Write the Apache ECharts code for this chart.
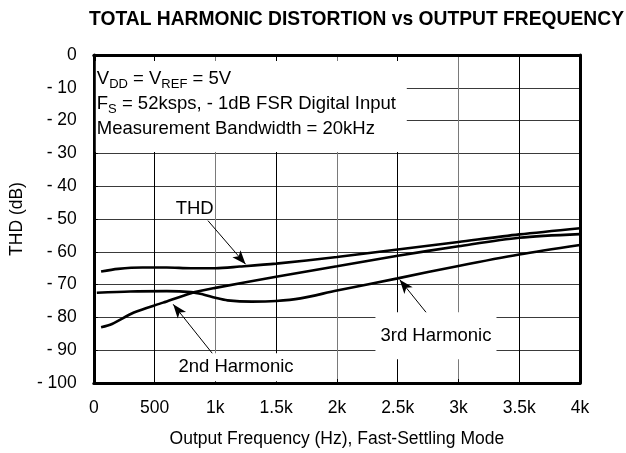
<!DOCTYPE html>
<html>
<head>
<meta charset="utf-8">
<script src="https://cdn.jsdelivr.net/npm/echarts@6/dist/echarts.min.js"></script>
<style>
html,body{margin:0;padding:0;background:#fff;}
#chart{width:626px;height:453px;}
</style>
</head>
<body>
<div id="chart"></div>
<script>
// ---- data ----
const xTicks = [0, 500, 1000, 1500, 2000, 2500, 3000, 3500, 4000];
const xTickLabels = ['0', '500', '1k', '1.5k', '2k', '2.5k', '3k', '3.5k', '4k'];
const yTicks = [-100, -90, -80, -70, -60, -50, -40, -30, -20, -10, 0];
const yTickLabels = ['- 100', '- 90', '- 80', '- 70', '- 60', '- 50', '- 40', '- 30', '- 20', '- 10', '0'];

const thdFreq = [60, 200, 400, 600, 800, 1000, 1200, 1500, 2000, 2500, 3000, 3500, 4000];
const thdDb   = [-66.0, -65.2, -64.8, -64.8, -65.0, -65.0, -64.5, -63.6, -61.6, -59.3, -57.0, -54.7, -52.8];

const h2Freq = [60, 150, 330, 570, 800, 1000, 1500, 2000, 2500, 3000, 3500, 4000];
const h2Db   = [-83.0, -82.0, -78.5, -75.5, -72.6, -71.0, -67.6, -64.4, -61.2, -58.3, -55.7, -54.6];

const h3Freq = [25, 300, 600, 800, 900, 1000, 1100, 1300, 1500, 1700, 2000, 2500, 3000, 3500, 4000];
const h3Db   = [-72.5, -72.1, -72.0, -72.3, -73.0, -74.0, -74.8, -75.2, -75.0, -74.2, -71.8, -68.1, -64.3, -60.8, -57.9];

// annotation anchors (data coordinates)
const thdArrow = [[939, -50.5], [1249, -63.8]];
const h2Arrow  = [[993, -91.8], [653, -76.0]];
const h3Arrow  = [[2789, -81.0], [2517, -68.5]];
const thdLabelAt = [830, -47];
const h2LabelAt  = [1170, -95.2];
const h3LabelAt  = [2815, -85.6];

const TITLE = 'TOTAL HARMONIC DISTORTION vs OUTPUT FREQUENCY';
const FONT = '"Liberation Sans", Arial, sans-serif';

function zip(a, b) { return a.map((v, i) => [v, b[i]]); }
function arrow(p) {
  return [{ coord: p[0], symbol: 'none' }, { coord: p[1], symbol: 'arrow' }];
}

const chart = echarts.init(document.getElementById('chart'), null, { renderer: 'canvas' });

const axisLineStyle = { color: '#000', width: 3 };
const markLineBase = {
  silent: true, symbolSize: [8, 14], label: { show: false },
  lineStyle: { color: '#000', width: 1, type: 'solid' }
};

const option = {
  animation: false,
  backgroundColor: '#fff',
  textStyle: { fontFamily: FONT },
  grid: { left: 90, right: 46, top: 55, bottom: 65 },
  xAxis: [{
    type: 'value', min: 0, max: 4000, interval: 500,
    position: 'bottom',
    name: 'Output Frequency (Hz), Fast-Settling Mode',
    nameLocation: 'middle', nameGap: 47,
    nameTextStyle: { fontFamily: FONT, fontSize: 17.5, color: '#000' },
    axisLine: { show: true, onZero: false, lineStyle: axisLineStyle },
    axisTick: { show: true, inside: true, length: 4, lineStyle: { color: '#000' } },
    axisLabel: {
      margin: 16, fontFamily: FONT, fontSize: 17.5, color: '#000',
      formatter: v => xTickLabels[xTicks.indexOf(v)]
    },
    splitLine: { show: true, lineStyle: { color: ['#7a7a7a', '#000'], width: 1 } }
  }, {
    type: 'value', min: 0, max: 4000, interval: 500, position: 'top',
    axisLine: { show: true, onZero: false, lineStyle: axisLineStyle },
    axisTick: { show: false }, axisLabel: { show: false }, splitLine: { show: false }
  }],
  yAxis: [{
    type: 'value', min: -100, max: 0, interval: 10,
    position: 'left',
    name: 'THD (dB)',
    nameLocation: 'middle', nameGap: 64,
    nameTextStyle: { fontFamily: FONT, fontSize: 17.5, color: '#000' },
    axisLine: { show: true, onZero: false, lineStyle: axisLineStyle },
    axisTick: { show: true, inside: true, length: 4, lineStyle: { color: '#000' } },
    axisLabel: {
      margin: 17, fontFamily: FONT, fontSize: 17.5, color: '#000',
      formatter: v => yTickLabels[yTicks.indexOf(v)]
    },
    splitLine: { show: true, lineStyle: { color: '#3a3a3a', width: 1 } }
  }, {
    type: 'value', min: -100, max: 0, interval: 10, position: 'right',
    axisLine: { show: true, onZero: false, lineStyle: axisLineStyle },
    axisTick: { show: false }, axisLabel: { show: false }, splitLine: { show: false }
  }],
  series: [
    {
      name: 'THD', type: 'line', data: zip(thdFreq, thdDb), smooth: 0.3,
      showSymbol: false, lineStyle: { color: '#000', width: 2.6 }, z: 5,
      markLine: Object.assign({ data: [arrow(thdArrow)] }, markLineBase)
    },
    {
      name: '2nd Harmonic', type: 'line', data: zip(h2Freq, h2Db), smooth: 0.3,
      showSymbol: false, lineStyle: { color: '#000', width: 2.6 }, z: 5,
      markLine: Object.assign({ data: [arrow(h2Arrow)] }, markLineBase)
    },
    {
      name: '3rd Harmonic', type: 'line', data: zip(h3Freq, h3Db), smooth: 0.3,
      showSymbol: false, lineStyle: { color: '#000', width: 2.6 }, z: 5,
      markLine: Object.assign({ data: [arrow(h3Arrow)] }, markLineBase)
    }
  ]
};
chart.setOption(option);

function px(p) { return chart.convertToPixel({ xAxisIndex: 0, yAxisIndex: 0 }, p); }

// title: tall bold face, slightly condensed to fit the reference width
const titleFont = 'bold 21px ' + FONT;
const ctx = document.createElement('canvas').getContext('2d');
ctx.font = titleFont;
const titleW = ctx.measureText(TITLE).width;
const titleScale = 535 / titleW;

const tl = px([0, 0]);
const p1 = px(thdLabelAt), p2 = px(h2LabelAt), p3 = px(h3LabelAt);
const annoFont = 18.5;
const rich = {
  m: { fontFamily: FONT, fontSize: annoFont, lineHeight: 24, fill: '#000' },
  s: { fontFamily: FONT, fontSize: 13, lineHeight: 9, verticalAlign: 'bottom', fill: '#000' }
};

chart.setOption({
  graphic: [
    { type: 'text', z: 6, x: 89, y: 19, scaleX: titleScale,
      style: { text: TITLE, font: titleFont, fill: '#000', align: 'left', verticalAlign: 'middle' } },
    { type: 'rect', z: 1, shape: { x: tl[0] + 2, y: tl[1] + 6, width: 311, height: 91 },
      style: { fill: '#fff' } },
    { type: 'text', z: 6, x: tl[0] + 3, y: tl[1] + 24,
      style: { text: '{m|V}{s|DD}{m| = V}{s|REF}{m| = 5V}', verticalAlign: 'middle', align: 'left', rich: rich } },
    { type: 'text', z: 6, x: tl[0] + 3, y: tl[1] + 49,
      style: { text: '{m|F}{s|S}{m| = 52ksps, - 1dB FSR Digital Input}', verticalAlign: 'middle', align: 'left', rich: rich } },
    { type: 'text', z: 6, x: tl[0] + 3, y: tl[1] + 74,
      style: { text: 'Measurement Bandwidth = 20kHz', verticalAlign: 'middle', align: 'left',
        font: annoFont + 'px ' + FONT, fill: '#000' } },
    { type: 'text', z: 6, x: p1[0], y: p1[1],
      style: { text: 'THD', align: 'center', verticalAlign: 'middle',
        font: annoFont + 'px ' + FONT, fill: '#000' } },
    { type: 'text', z: 6, x: p2[0], y: p2[1],
      style: { text: '2nd Harmonic', align: 'center', verticalAlign: 'middle',
        font: annoFont + 'px ' + FONT, fill: '#000',
        backgroundColor: '#fff', padding: [5, 5, 4, 5] } },
    { type: 'text', z: 6, x: p3[0], y: p3[1],
      style: { text: '3rd Harmonic', align: 'center', verticalAlign: 'middle',
        font: annoFont + 'px ' + FONT, fill: '#000',
        backgroundColor: '#fff', padding: [14, 5, 14, 5] } }
  ]
});
</script>
</body>
</html>
